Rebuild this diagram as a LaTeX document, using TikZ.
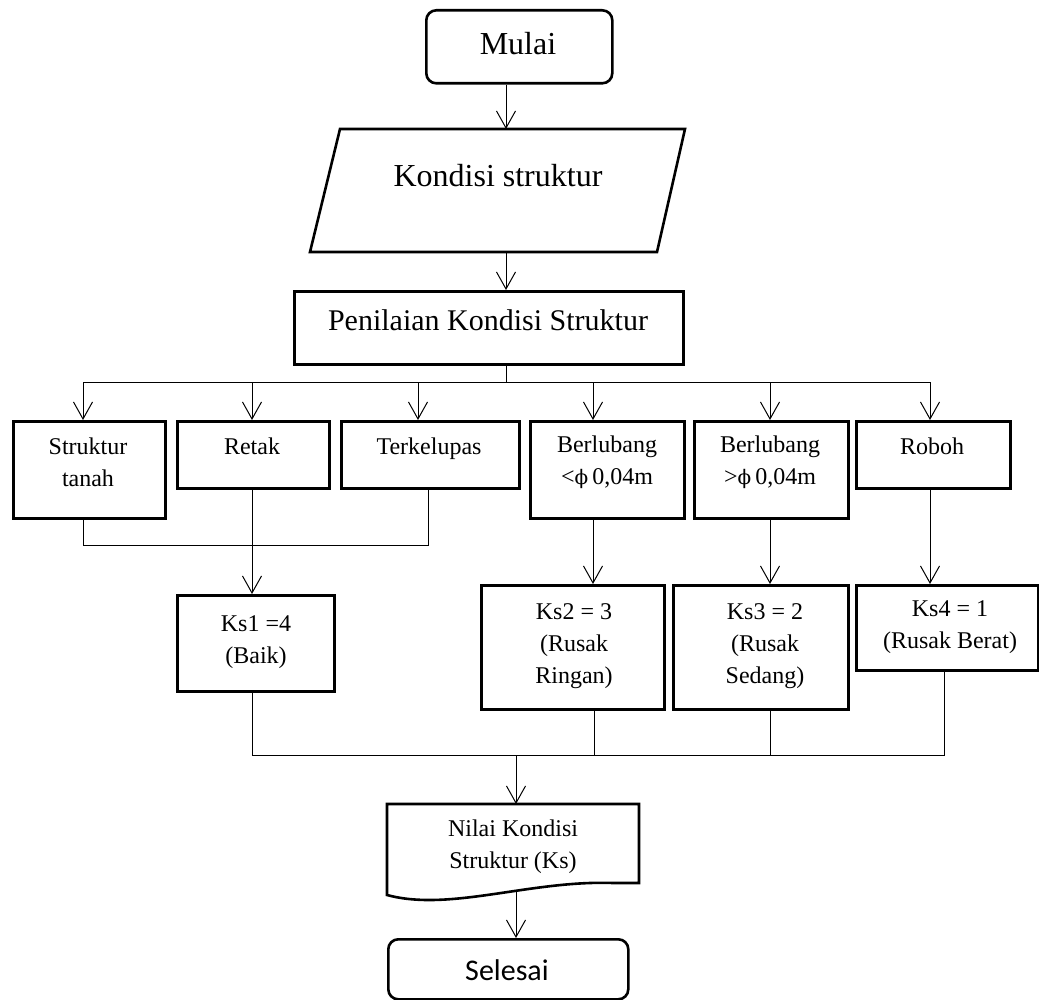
\documentclass[tikz,border=0pt]{standalone}
\usepackage{fontspec}
\setmainfont{Liberation Serif}
\newfontfamily\calibfont{Carlito}
\newfontfamily\phifont{DejaVu Serif}
\newcommand{\myphi}{{\phifont\fontsize{20}{32}\selectfont ϕ}}
\usetikzlibrary{arrows.meta}
\begin{document}
\begin{tikzpicture}[x=1pt,y=-1pt,
  box/.style={draw, line width=2.6pt, rectangle, inner sep=0pt, anchor=north west},
  shapebox/.style={draw=none, rectangle, inner sep=0pt, anchor=north west},
  conn/.style={line width=1pt},
  arr/.style={line width=1pt, -{Straight Barb[length=17pt,width=19pt,line width=1pt]}},
  lbl/.style={inner sep=0pt, align=center, font=\fontsize{24}{32}\selectfont},
  big/.style={inner sep=0pt, align=center, font=\fontsize{32}{38}\selectfont},
]
\useasboundingbox (0,0) rectangle (1039,1000);
\fill[white] (0,0) rectangle (1039,1000);

% ---- top
\node[box, rounded corners=10pt, minimum width=186pt, minimum height=73pt] (mulai) at (425,9) {};
\node[big] (mulaiT) at (518,44) {Mulai};

\node[shapebox, minimum width=375pt, minimum height=123pt] (kondisi) at (310,129) {};
\draw[line width=2.6pt, line join=miter] (340,129) -- (685,129) -- (657,252) -- (310,252) -- cycle;
\node[big] (kondisiT) at (498,176) {Kondisi struktur};

\node[box, minimum width=389pt, minimum height=73pt] (pen) at (293,290) {};
\node[big, font=\fontsize{30}{36}\selectfont] (penT) at (488,320) {Penilaian Kondisi Struktur};

% ---- first row
\node[box, minimum width=152pt, minimum height=97pt] (st) at (12,420) {};
\node[box, minimum width=152pt, minimum height=67pt] (re) at (176,420) {};
\node[box, minimum width=178pt, minimum height=67pt] (te) at (340,420) {};
\node[box, minimum width=154pt, minimum height=97pt] (bA) at (529,420) {};
\node[box, minimum width=154pt, minimum height=97pt] (bB) at (693,420) {};
\node[box, minimum width=154pt, minimum height=67pt] (ro) at (855,420) {};

\node[lbl] (stT) at (88,462) {Struktur\\tanah};
\node[lbl] (reT) at (252,446) {Retak};
\node[lbl] (teT) at (429,449) {Terkelupas};
\node[lbl] (bAT) at (607,462) {Berlubang\\<\myphi\,0,04m};
\node[lbl] (bBT) at (770,462) {Berlubang\\>\myphi\,0,04m};
\node[lbl] (roT) at (932,446) {Roboh};

% ---- second row
\node[box, minimum width=157pt, minimum height=96pt] (kA) at (176,594) {};
\node[box, minimum width=183pt, minimum height=124pt] (kB) at (480,584) {};
\node[box, minimum width=175pt, minimum height=124pt] (kC) at (672,584) {};
\node[box, minimum width=182pt, minimum height=85pt] (kD) at (855,584) {};

\node[lbl] (kAT) at (256,642) {Ks1 =4\\(Baik)};
\node[lbl] (kBT) at (574,646) {Ks2 = 3\\(Rusak\\Ringan)};
\node[lbl] (kCT) at (765,646) {Ks3 = 2\\(Rusak\\Sedang)};
\node[lbl] (kDT) at (950,627) {Ks4 = 1\\(Rusak Berat)};

% ---- bottom
\node[shapebox, minimum width=252pt, minimum height=87pt] (nilai) at (387,804) {};
\draw[line width=2.6pt, line join=miter] (387,804) -- (639,804) -- (639,883) -- (613,883)
   .. controls (530,880) and (450,912) .. (387,895) -- cycle;
\node[lbl] (nilaiT) at (513,847) {Nilai Kondisi\\Struktur (Ks)};

\node[box, rounded corners=10pt, minimum width=240pt, minimum height=60pt] (selesai) at (387,938) {};
\node[inner sep=0pt, font=\calibfont\fontsize{30}{36}\selectfont] (selesaiT) at (507,970) {Selesai};

% ---- coordinates
\coordinate (spine) at (506,382);
\coordinate (a1) at (83,382);
\coordinate (a2) at (252,382);
\coordinate (a3) at (418,382);
\coordinate (a4) at (593,382);
\coordinate (a5) at (770,382);
\coordinate (a6) at (930,382);
\coordinate (m1) at (83,545);
\coordinate (m2) at (428,545);
\coordinate (n1) at (252,755);
\coordinate (n2) at (594,755);
\coordinate (n3) at (770,755);
\coordinate (n4) at (944,755);
\coordinate (nm) at (516,755);

% ---- connectors
\draw[arr] (mulai.south -| spine) -- (kondisi.north -| spine);
\draw[arr] (kondisi.south -| spine) -- (pen.north -| spine);
\draw[conn] (pen.south -| spine) -- (spine);
\draw[conn] (a1) -- (a6);
\draw[arr] (a1) -- (a1 |- st.north);
\draw[arr] (a2) -- (a2 |- re.north);
\draw[arr] (a3) -- (a3 |- te.north);
\draw[arr] (a4) -- (a4 |- bA.north);
\draw[arr] (a5) -- (a5 |- bB.north);
\draw[arr] (a6) -- (a6 |- ro.north);

\draw[conn] (m1 |- st.south) -- (m1) -- (m2) -- (m2 |- te.south);
\draw[arr] (a2 |- re.south) -- (a2 |- kA.north);
\draw[arr] (a4 |- bA.south) -- (a4 |- kB.north);
\draw[arr] (a5 |- bB.south) -- (a5 |- kC.north);
\draw[arr] (a6 |- ro.south) -- (a6 |- kD.north);

\draw[conn] (n1 |- kA.south) -- (n1) -- (n4) -- (n4 |- kD.south);
\draw[conn] (n2 |- kB.south) -- (n2);
\draw[conn] (n3 |- kC.south) -- (n3);
\draw[arr] (nm) -- (nm |- nilai.north);
\draw[arr] (nm |- nilai.south) -- (nm |- selesai.north);
\end{tikzpicture}
\end{document}
